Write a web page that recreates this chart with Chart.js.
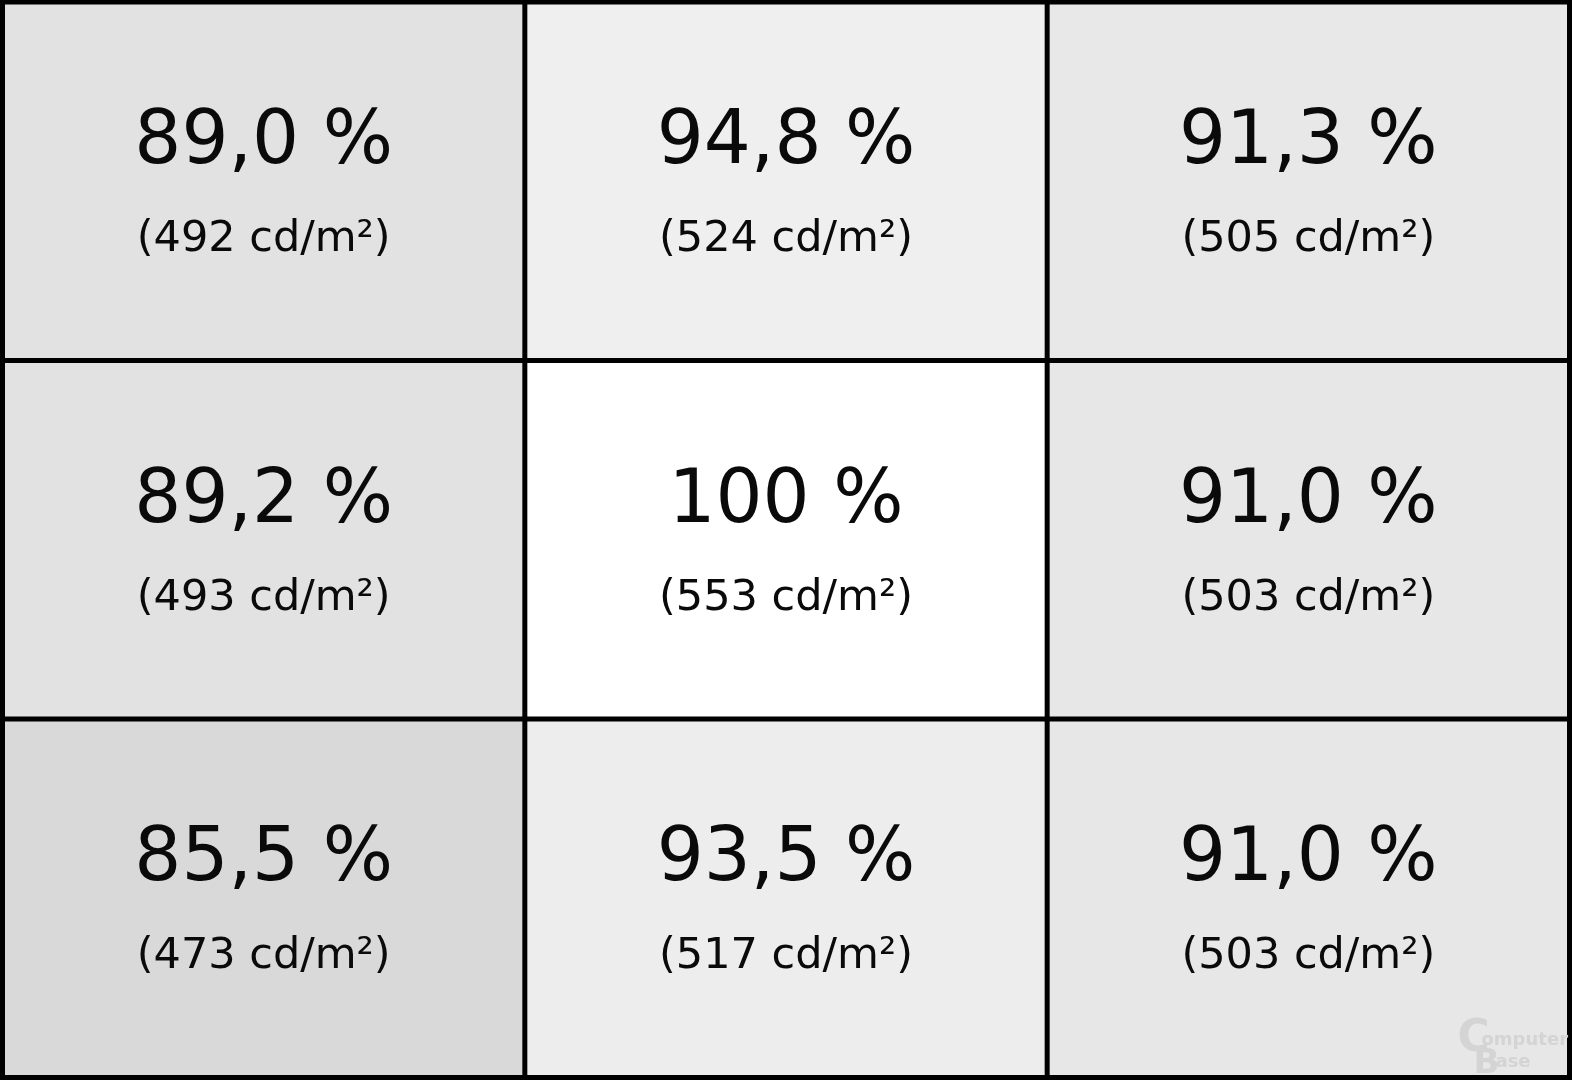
<!DOCTYPE html>
<html>
<head>
<meta charset="utf-8">
<script src="https://cdn.jsdelivr.net/npm/chart.js@4.4.0/dist/chart.umd.min.js"></script>
<style>
  html, body { margin: 0; padding: 0; background: #ffffff; }
  #wrap { width: 1572px; height: 1080px; }
</style>
</head>
<body>
<div id="wrap"><canvas id="myChart" width="1572" height="1080"></canvas></div>
<script>
// 3x3 luminance grid, row by row from top-left
const columns = ['links', 'mitte', 'rechts'];
const rowNames = ['oben', 'mitte', 'unten'];
const percentRows = [
    [89.0, 94.8, 91.3],
    [89.2, 100, 91.0],
    [85.5, 93.5, 91.0]
];
const luminanceRows = [
    [492, 524, 505],
    [493, 553, 503],
    [473, 517, 503]
];
const cellColors = [
    ['#e2e2e2', '#efefef', '#e8e8e8'],
    ['#e2e2e2', '#ffffff', '#e7e7e7'],
    ['#d9d9d9', '#ededed', '#e7e7e7']
];

function formatPercent(v) {
    if (v === 100) return '100 %';
    return v.toFixed(1).replace('.', ',') + ' %';
}

const datasets = rowNames.map((name, r) => {
    return {
        label: name,
        data: columns.map(() => [r, r + 1]),
        backgroundColor: cellColors[r],
        borderWidth: 0,
        categoryPercentage: 1,
        barPercentage: 1,
        grouped: false
    };
});

// black cell borders, placed from the scales
const cellLines = {
    id: 'cellLines',
    afterDatasetsDraw(chart) {
        const ctx = chart.ctx;
        const a = chart.chartArea;
        const xs = chart.scales.x;
        const ys = chart.scales.y;
        ctx.save();
        ctx.strokeStyle = '#000000';
        ctx.lineWidth = 5;
        const xLines = [a.left];
        for (let i = 0; i < columns.length - 1; i++) {
            xLines.push((xs.getPixelForValue(i) + xs.getPixelForValue(i + 1)) / 2);
        }
        xLines.push(a.right);
        xLines.forEach((x) => {
            ctx.beginPath();
            ctx.moveTo(x, a.top - 3);
            ctx.lineTo(x, a.bottom + 3);
            ctx.stroke();
        });
        for (let r = 0; r <= rowNames.length; r++) {
            const y = ys.getPixelForValue(r);
            ctx.beginPath();
            ctx.moveTo(a.left - 3, y);
            ctx.lineTo(a.right + 3, y);
            ctx.stroke();
        }
        ctx.restore();
    }
};

const cellText = {
    id: 'cellText',
    afterDraw(chart) {
        const ctx = chart.ctx;
        ctx.save();
        ctx.fillStyle = '#0a0a0a';
        ctx.textAlign = 'center';
        ctx.textBaseline = 'middle';
        chart.data.datasets.forEach((ds, r) => {
            const meta = chart.getDatasetMeta(r);
            meta.data.forEach((bar, c) => {
                const p = bar.getCenterPoint();
                ctx.font = '74px "DejaVu Sans"';
                ctx.fillText(formatPercent(percentRows[r][c]), p.x, p.y - 37);
                ctx.font = '43px "DejaVu Sans"';
                ctx.fillText('(' + luminanceRows[r][c] + ' cd/m²)', p.x, p.y + 59);
            });
        });

        // ComputerBase watermark
        const a = chart.chartArea;
        ctx.fillStyle = '#d4d4d4';
        ctx.textAlign = 'left';
        ctx.textBaseline = 'alphabetic';
        ctx.font = 'bold 44px "DejaVu Sans"';
        ctx.fillText('C', a.right - 112, a.bottom - 27);
        ctx.font = 'bold 18px "DejaVu Sans"';
        ctx.fillText('omputer', a.right - 88, a.bottom - 33);
        ctx.font = 'bold 34px "DejaVu Sans"';
        ctx.fillText('B', a.right - 96, a.bottom - 5);
        ctx.font = 'bold 18px "DejaVu Sans"';
        ctx.fillText('ase', a.right - 74, a.bottom - 11);
        ctx.restore();
    }
};

const ctx = document.getElementById('myChart').getContext('2d');
const myChart = new Chart(ctx, {
    type: 'bar',
    data: {
        labels: columns,
        datasets: datasets
    },
    options: {
        responsive: false,
        animation: false,
        layout: {
            padding: { left: 2.5, right: 2.5, top: 2, bottom: 2.5 }
        },
        plugins: {
            legend: { display: false },
            tooltip: { enabled: false }
        },
        scales: {
            x: {
                display: false,
                offset: true
            },
            y: {
                display: false,
                min: 0,
                max: 3,
                reverse: true
            }
        }
    },
    plugins: [cellLines, cellText]
});
</script>
</body>
</html>
